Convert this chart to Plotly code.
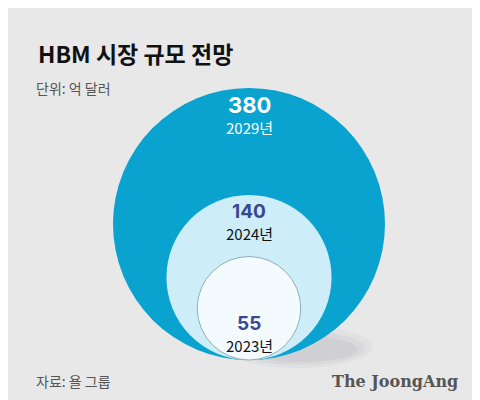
import plotly.graph_objects as go
import numpy as np

years = ["2029년", "2024년", "2023년"]
values = [380, 140, 55]
fills = ["#0aa3cf", "#cdeef8", "#f4fbfe"]
num_colors = ["#ffffff", "#3a4790", "#3a4790"]
year_colors = ["#ffffff", "#111111", "#111111"]

W, H = 480, 400
cx, bottom = 241, 352
k = 136 / np.sqrt(max(values))

fig = go.Figure()
shapes = []
# soft shadow to the lower right
for i, op in enumerate([0.04, 0.05, 0.06]):
    shapes.append(dict(type="circle", xref="x", yref="y", x0=215 + i * 10, x1=365 - i * 8,
                       y0=318 + i * 5, y1=360 - i * 3, fillcolor="#4a4a6a", opacity=op, line_width=0,
                       layer="below"))
annotations = []
for i, (yr, v) in enumerate(zip(years, values)):
    r = k * np.sqrt(v)
    top = bottom - 2 * r
    shapes.append(dict(type="circle", xref="x", yref="y", x0=cx - r, x1=cx + r, y0=top, y1=bottom,
                       fillcolor=fills[i],
                       line=dict(color="#7a9aa6" if i == 2 else fills[i], width=0.8 if i == 2 else 0)))
    ny = top + 17 if i < 2 else top + 67
    annotations.append(dict(x=cx, y=ny, text=f"<b>{v}</b>", showarrow=False,
                            font=dict(size=22 if i == 0 else 19, color=num_colors[i], family="Inter")))
    annotations.append(dict(x=cx, y=ny + 22, text=yr, showarrow=False,
                            font=dict(size=15, color=year_colors[i], family="Noto Sans CJK KR")))

annotations += [
    dict(x=28, y=45, text="<b>HBM 시장 규모 전망</b>", showarrow=False, xanchor="left",
         font=dict(size=23, color="#111111", family="Noto Sans CJK KR")),
    dict(x=26, y=80, text="단위: 억 달러", showarrow=False, xanchor="left",
         font=dict(size=14, color="#555555", family="Noto Sans CJK KR")),
    dict(x=26, y=373, text="자료: 욜 그룹", showarrow=False, xanchor="left",
         font=dict(size=14, color="#555555", family="Noto Sans CJK KR")),
    dict(x=452, y=373, text="<b>The JoongAng</b>", showarrow=False, xanchor="right",
         font=dict(size=16, color="#555555", family="DejaVu Serif")),
]

fig.update_layout(
    width=W, height=H, margin=dict(l=0, r=0, t=0, b=0),
    paper_bgcolor="#e8e8e8", plot_bgcolor="#e8e8e8",
    xaxis=dict(range=[0, W], visible=False, fixedrange=True),
    yaxis=dict(range=[H, 0], visible=False, fixedrange=True),
    shapes=shapes, annotations=annotations, showlegend=False,
)
fig.write_html("out.html")
